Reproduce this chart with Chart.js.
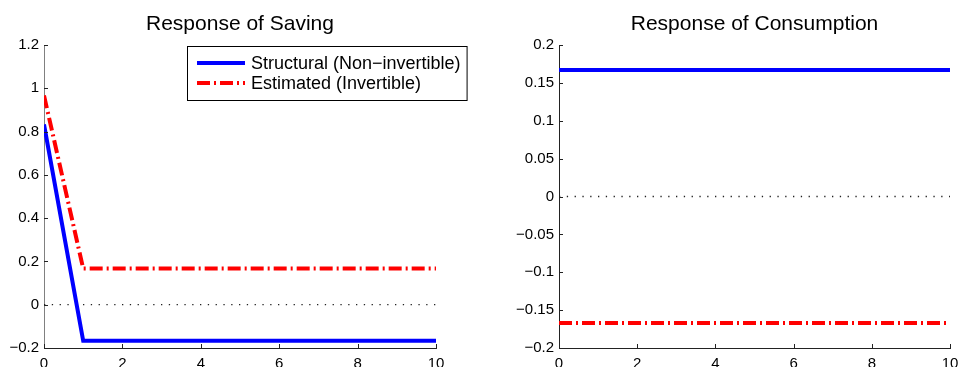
<!DOCTYPE html>
<html lang="en">
<head>
  <meta charset="UTF-8" />
  <title>Response of Saving / Consumption</title>
  <style>
    body { margin: 0; background: #fff; overflow: hidden; width: 958px; height: 367px; position: relative; }
    canvas { position: absolute; top: 0; }
    #chartSaving { left: 0; }
    #chartConsumption { left: 479px; }
  </style>
</head>
<body>
  <canvas id="chartSaving" width="479" height="380"></canvas>
  <canvas id="chartConsumption" width="500" height="380"></canvas>

  <script src="https://cdn.jsdelivr.net/npm/chart.js@4"></script>
  <script>
    // ---- data ----
    const horizon = [0, 1, 2, 3, 4, 5, 6, 7, 8, 9, 10];
    const xTicks = [0, 2, 4, 6, 8, 10];

    const savingStructural = [0.833, -0.167, -0.167, -0.167, -0.167, -0.167, -0.167, -0.167, -0.167, -0.167, -0.167];
    const savingEstimated = [0.967, 0.167, 0.167, 0.167, 0.167, 0.167, 0.167, 0.167, 0.167, 0.167, 0.167];
    const savingTicks = [-0.2, 0, 0.2, 0.4, 0.6, 0.8, 1, 1.2];

    const consumptionStructural = [0.167, 0.167, 0.167, 0.167, 0.167, 0.167, 0.167, 0.167, 0.167, 0.167, 0.167];
    const consumptionEstimated = [-0.167, -0.167, -0.167, -0.167, -0.167, -0.167, -0.167, -0.167, -0.167, -0.167, -0.167];
    const consumptionTicks = [-0.2, -0.15, -0.1, -0.05, 0, 0.05, 0.1, 0.15, 0.2];

    const zeroLine = [0, 0, 0, 0, 0, 0, 0, 0, 0, 0, 0];

    const labelStructural = 'Structural (Non\u2212invertible)';
    const labelEstimated = 'Estimated (Invertible)';

    const FONT = '"Liberation Sans", Arial, Helvetica, sans-serif';
    const RED_DASH = [13, 4, 2, 4];

    function points(ys) {
      return horizon.map((x, i) => ({ x: x, y: ys[i] }));
    }

    function fmt(v) {
      return Number(v.toFixed(3)).toString().replace('-', '\u2212');
    }

    // matlab style ticks pointing into the axes
    const inwardTicks = {
      id: 'inwardTicks',
      afterDraw(chart) {
        const ctx = chart.ctx;
        const area = chart.chartArea;
        const xs = chart.scales.x, ys = chart.scales.y;
        ctx.save();
        ctx.strokeStyle = '#222';
        ctx.lineWidth = 1;
        ctx.beginPath();
        xs.ticks.forEach(t => {
          const px = Math.round(xs.getPixelForValue(t.value)) + 0.5;
          ctx.moveTo(px, area.bottom);
          ctx.lineTo(px, area.bottom - 4);
        });
        ys.ticks.forEach(t => {
          const py = Math.round(ys.getPixelForValue(t.value)) + 0.5;
          ctx.moveTo(area.left, py);
          ctx.lineTo(area.left + 4, py);
        });
        ctx.stroke();
        ctx.restore();
      }
    };

    // title centred over the plot area (not the whole canvas)
    const areaTitle = {
      id: 'areaTitle',
      afterDraw(chart, args, opts) {
        const ctx = chart.ctx;
        const area = chart.chartArea;
        ctx.save();
        ctx.font = '21px ' + FONT;
        ctx.fillStyle = '#000';
        ctx.textAlign = 'center';
        ctx.textBaseline = 'middle';
        ctx.fillText(opts.text, (area.left + area.right) / 2, 24);
        ctx.restore();
      }
    };

    // boxed legend drawn over the saving plot
    const boxLegend = {
      id: 'boxLegend',
      afterDraw(chart, args, opts) {
        if (!opts.show) return;
        const ctx = chart.ctx;
        const area = chart.chartArea;
        const items = chart.data.datasets.filter(d => d.label);
        ctx.save();
        ctx.font = '18px ' + FONT;
        const textW = Math.max(...items.map(d => ctx.measureText(d.label).width));
        const left = area.left + 143, top = area.top + 1;
        const w = 10 + 48 + 6 + textW + 6, h = 54;
        ctx.fillStyle = '#fff';
        ctx.fillRect(left, top, w, h);
        ctx.strokeStyle = '#000';
        ctx.lineWidth = 1;
        ctx.strokeRect(left + 0.5, top + 0.5, w, h);
        items.forEach((d, i) => {
          const y = top + 17 + i * 20;
          ctx.beginPath();
          ctx.strokeStyle = d.borderColor;
          ctx.lineWidth = d.borderWidth;
          ctx.setLineDash(d.borderDash || []);
          ctx.moveTo(left + 10, y);
          ctx.lineTo(left + 58, y);
          ctx.stroke();
          ctx.setLineDash([]);
          ctx.fillStyle = '#000';
          ctx.textBaseline = 'middle';
          ctx.fillText(d.label, left + 64, y + 1);
        });
        ctx.restore();
      }
    };

    function makeChart(canvasId, title, structural, estimated, yTicks, yMin, yMax, yAxisWidth, rightPad, yAxisColor, showLegend) {
      const ctx = document.getElementById(canvasId).getContext('2d');
      return new Chart(ctx, {
        type: 'line',
        data: {
          datasets: [
            {
              label: labelStructural,
              data: points(structural),
              borderColor: '#0000ff',
              borderWidth: 4,
              pointRadius: 0,
              tension: 0,
              order: 1
            },
            {
              label: labelEstimated,
              data: points(estimated),
              borderColor: '#ff0000',
              borderWidth: 4,
              borderDash: RED_DASH,
              pointRadius: 0,
              tension: 0,
              order: 0
            },
            {
              data: points(zeroLine),
              borderColor: '#222',
              borderWidth: 1.3,
              borderDash: [1.3, 6.5],
              pointRadius: 0,
              order: 2
            }
          ]
        },
        options: {
          responsive: false,
          animation: false,
          events: [],
          layout: { padding: { left: 0, right: rightPad, top: 45, bottom: 0 } },
          scales: {
            x: {
              type: 'linear',
              min: 0,
              max: 10,
              afterFit: s => { s.height = 32; },
              afterBuildTicks: s => { s.ticks = xTicks.map(v => ({ value: v })); },
              grid: { display: true, drawOnChartArea: false, drawTicks: false },
              border: { display: true, color: '#222', width: 1 },
              ticks: {
                padding: 7,
                color: '#000',
                font: { family: FONT, size: 15 },
                maxRotation: 0,
                callback: v => fmt(v)
              }
            },
            y: {
              min: yMin,
              max: yMax,
              afterFit: s => { s.width = yAxisWidth; },
              afterBuildTicks: s => { s.ticks = yTicks.map(v => ({ value: v })); },
              grid: { display: true, drawOnChartArea: false, drawTicks: false },
              border: { display: true, color: yAxisColor, width: 1 },
              ticks: {
                padding: 5,
                color: '#000',
                font: { family: FONT, size: 15 },
                callback: v => fmt(v)
              }
            }
          },
          plugins: {
            legend: { display: false },
            tooltip: { enabled: false },
            title: { display: false },
            areaTitle: { text: title },
            boxLegend: { show: showLegend }
          }
        },
        plugins: [inwardTicks, areaTitle, boxLegend]
      });
    }

    makeChart('chartSaving', 'Response of Saving', savingStructural, savingEstimated,
      savingTicks, -0.2, 1.2, 44, 43, '#808080', true);
    makeChart('chartConsumption', 'Response of Consumption', consumptionStructural, consumptionEstimated,
      consumptionTicks, -0.2, 0.2, 80, 29, '#222', false);
  </script>
</body>
</html>
